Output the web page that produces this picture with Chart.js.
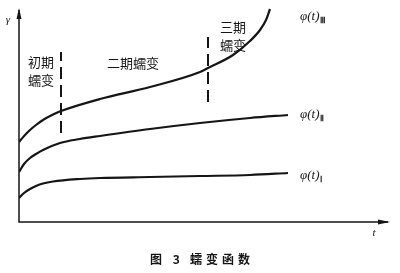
<!DOCTYPE html>
<html><head><meta charset="utf-8">
<script src="https://cdn.jsdelivr.net/npm/chart.js@4/dist/chart.umd.min.js"></script>
<style>html,body{margin:0;padding:0;background:#fff;}#wrap{width:400px;height:273px;}</style>
</head><body><div id="wrap"><canvas id="c" width="400" height="273"></canvas></div>
<script>
// curve III (phi(t)_III)
const t3 = [0,6,11,17,24,33,42,81,131,181,189,214,231,241,247,251];
const g3 = [80,87,92,97,102,107,111,123,135,150,154,167,181,192,202,213];
// curve II
const t2 = [0,5,11,17,24,41,61,81,131,181,231,269];
const g2 = [50,58,64,68,72,79,83,86,93,99,104,107];
// curve I
const t1 = [0,5,11,17,24,34,61,81,131,181,231,269];
const g1 = [24,29,33,36,38.5,40.5,43,44,45,46,47,49];
// stage boundaries (dashed)
const boundaryT = [42,189];
const boundaryLow = [89,120];
const boundaryHigh = [170,185];
const curveLabels = ['φ(t)', 'φ(t)', 'φ(t)'];
const curveSubs = ['Ⅲ','Ⅱ','Ⅰ'];
const stageLabels = [['初期','蠕变'],['二期蠕变'],['三期','蠕变']];
const caption = ['图 3', '蠕变函数'];

const pts = (ts, gs) => ts.map((t,i)=>({x:t,y:gs[i]}));
const ink = '#151515';
const curveStyle = {borderColor:ink,borderWidth:2.2,pointRadius:0,cubicInterpolationMode:'monotone',fill:false};
const dashStyle = {borderColor:ink,borderWidth:2,pointRadius:0,borderDash:[12,6],fill:false};

const deco = {
  id:'deco',
  afterDraw(chart){
    const ctx = chart.ctx, a = chart.chartArea, xs = chart.scales.x, ys = chart.scales.y;
    ctx.save();
    ctx.strokeStyle = ink; ctx.fillStyle = ink; ctx.lineWidth = 1.5;
    // axes
    ctx.beginPath(); ctx.moveTo(a.left, a.top+2); ctx.lineTo(a.left, a.bottom); ctx.lineTo(a.right-2, a.bottom); ctx.stroke();
    // arrows
    ctx.beginPath(); ctx.moveTo(a.left, a.top); ctx.lineTo(a.left-2.5, a.top+11); ctx.lineTo(a.left+2.5, a.top+11); ctx.closePath(); ctx.fill();
    ctx.beginPath(); ctx.moveTo(a.right, a.bottom); ctx.lineTo(a.right-12, a.bottom-2.5); ctx.lineTo(a.right-12, a.bottom+2.5); ctx.closePath(); ctx.fill();
    // axis labels
    ctx.font = 'italic 11px "Liberation Serif"'; ctx.textAlign='center'; ctx.textBaseline='middle';
    ctx.fillText('γ', a.left-11, a.top+12);
    ctx.fillText('t', a.right-16, a.bottom+11);
    // curve labels
    const labelY = [205, 107, 46];
    for(let i=0;i<3;i++){
      const px = xs.getPixelForValue(281), py = ys.getPixelForValue(labelY[i]);
      ctx.textAlign='left'; ctx.textBaseline='middle';
      ctx.font = 'italic 13px "Liberation Serif"';
      ctx.fillText(curveLabels[i], px, py);
      const w = ctx.measureText(curveLabels[i]).width;
      ctx.font = 'bold 8px "Liberation Serif"';
      ctx.fillText(curveSubs[i], px+w+1, py+4);
    }
    // stage labels
    ctx.font = '13px "Noto Sans CJK SC"'; ctx.textAlign='center'; ctx.textBaseline='middle';
    const sPos = [[22,160],[114,159],[214,195]];
    stageLabels.forEach((lines,i)=>{
      lines.forEach((s,j)=>{
        ctx.fillText(s, xs.getPixelForValue(sPos[i][0]), ys.getPixelForValue(sPos[i][1]) + j*18);
      });
    });
    // caption
    ctx.font = 'bold 12px "Noto Sans CJK SC"'; ctx.textAlign='left';
    if ('letterSpacing' in ctx) ctx.letterSpacing = '4px';
    ctx.fillText(caption[0], 150, 259);
    ctx.fillText(caption[1], 190, 259);
    ctx.restore();
  }
};

new Chart(document.getElementById('c'), {
  type:'scatter',
  data:{datasets:[
    Object.assign({data:pts(t3,g3),showLine:true}, curveStyle),
    Object.assign({data:pts(t2,g2),showLine:true}, curveStyle),
    Object.assign({data:pts(t1,g1),showLine:true}, curveStyle),
    Object.assign({data:[{x:boundaryT[0],y:boundaryLow[0]},{x:boundaryT[0],y:boundaryHigh[0]}],showLine:true}, dashStyle),
    Object.assign({data:[{x:boundaryT[1],y:boundaryLow[1]},{x:boundaryT[1],y:boundaryHigh[1]}],showLine:true}, dashStyle)
  ]},
  options:{
    responsive:false, animation:false,
    layout:{padding:{left:19,top:8,right:10,bottom:51}},
    plugins:{legend:{display:false},tooltip:{enabled:false}},
    scales:{
      x:{type:'linear',display:false,min:0,max:371},
      y:{type:'linear',display:false,min:0,max:214}
    }
  },
  plugins:[deco]
});
</script></body></html>
